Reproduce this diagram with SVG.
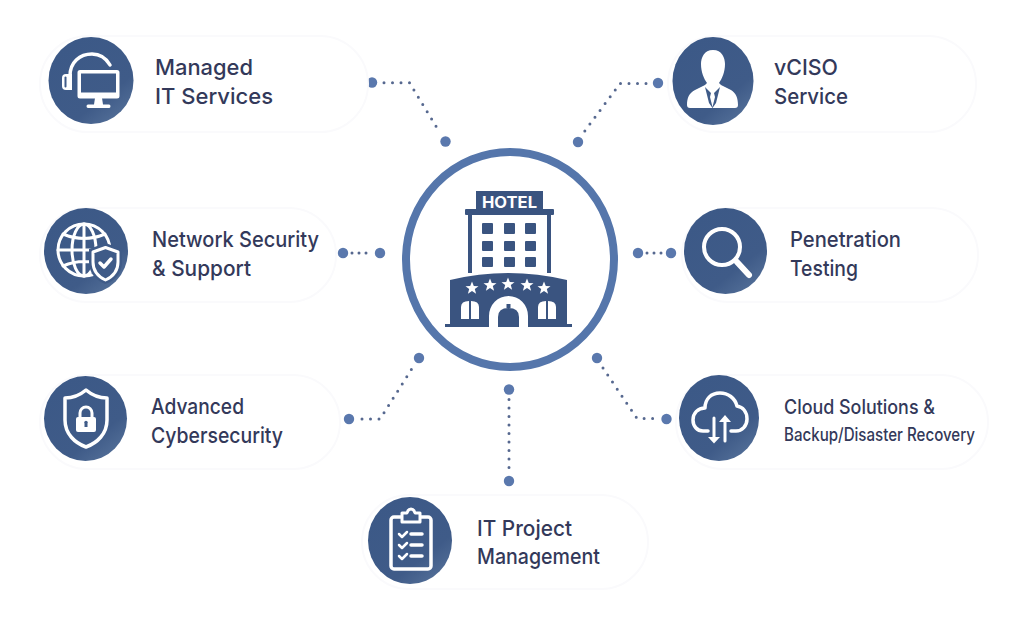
<svg xmlns="http://www.w3.org/2000/svg" width="1024" height="617" viewBox="0 0 1024 617">
<style>
text{font-family:"Inter","Liberation Sans",sans-serif;font-weight:500;font-size:22px;fill:#33395a}
.pill{fill:#fff;stroke:#fafafc;stroke-width:2}
.disc{fill:url(#g)}
.ws{fill:none;stroke:#fff;stroke-width:3.500;stroke-linecap:round;stroke-linejoin:round}
.wf{fill:#fff}
.dot{fill:#5a78ad}
.link{fill:none;stroke:#56688f;stroke-width:3;stroke-linecap:round;stroke-dasharray:0 8.500}
.short{stroke-dasharray:0 7}
.h{fill:#3a5480}
</style>
<defs>
<linearGradient id="g" x1="0.2" y1="0.1" x2="0.85" y2="0.95"><stop offset="0" stop-color="#3c5987"/><stop offset="0.7" stop-color="#3f5b88"/><stop offset="1" stop-color="#536f98"/></linearGradient>
</defs>
<rect width="1024" height="617" fill="#fff"/>

<g id="connectors">
<path class="link" d="M384 82.700H409.500L439.500 132"/><circle class="dot" cx="372" cy="82.500" r="5.200"/><circle class="dot" cx="445.500" cy="141.500" r="5.200"/>
<path class="link" d="M646 83.500H620L584 132"/><circle class="dot" cx="658" cy="83" r="5.200"/><circle class="dot" cx="578" cy="142" r="5.200"/>
<path class="link short" d="M352 253H373"/><circle class="dot" cx="343" cy="253" r="5.200"/><circle class="dot" cx="380" cy="253" r="5.200"/>
<path class="link short" d="M647 253H668"/><circle class="dot" cx="638" cy="253" r="5.200"/><circle class="dot" cx="671" cy="253" r="5.200"/>
<path class="link" d="M362 419H380L413 367"/><circle class="dot" cx="349" cy="419" r="5.200"/><circle class="dot" cx="419" cy="358" r="5.200"/>
<path class="link" d="M603 368L637 418.500H654"/><circle class="dot" cx="597" cy="358" r="5.200"/><circle class="dot" cx="666.500" cy="419" r="5.200"/>
<path class="link" d="M509 399.500V472"/><circle class="dot" cx="509" cy="389.500" r="5.200"/><circle class="dot" cx="509" cy="481" r="5.200"/>
</g>

<g id="hub">
<ellipse cx="510" cy="259.500" rx="104" ry="107.500" fill="#fff" stroke="#5576ab" stroke-width="8"/>
<rect class="h" x="476" y="191" width="67" height="18"/>
<text x="482" y="207.500" style="font-size:15.500px;font-weight:700;fill:#fff" textLength="55" lengthAdjust="spacingAndGlyphs">HOTEL</text>
<rect class="h" x="465" y="209" width="89" height="6" rx="1"/>
<rect class="h" x="468" y="215" width="4" height="58"/><rect class="h" x="547" y="215" width="4" height="58"/>
<g class="h">
<rect x="482" y="223" width="11" height="11" rx="1"/><rect x="504" y="223" width="11" height="11" rx="1"/><rect x="525" y="223" width="11" height="11" rx="1"/>
<rect x="482" y="241" width="11" height="10" rx="1"/><rect x="504" y="241" width="11" height="10" rx="1"/><rect x="525" y="241" width="11" height="10" rx="1"/>
<rect x="482" y="257" width="11" height="10" rx="1"/><rect x="504" y="257" width="11" height="10" rx="1"/><rect x="525" y="257" width="11" height="10" rx="1"/>
</g>
<path class="h" d="M450 280Q508 266 567 280V324H572V327H528V316A19.500 20 0 0 0 489 316V327H445V324H450Z"/>
<path class="h" d="M498 327V317Q498 308 508.500 308Q519 308 519 317V327ZM506.500 304H510.500V308H506.500Z"/>
<path class="wf" d="M461 319V307Q461 301 469 301V319ZM471 319V301Q479 301 479 307V319Z"/>
<path class="wf" d="M538 319V307Q538 301 546 301V319ZM548 319V301Q556 301 556 307V319Z"/>
<g class="wf">
<path id="s" d="M472 281.500L473.800 286 478.500 286.200 474.800 289.100 476.100 293.700 472 291 467.900 293.700 469.200 289.100 465.500 286.200 470.200 286Z"/>
<use href="#s" x="18" y="-3"/><use href="#s" x="36" y="-4"/><use href="#s" x="55" y="-3"/><use href="#s" x="72"/>
</g>
</g>

<g id="managed-it">
<rect class="pill" x="40" y="36" width="328" height="96" rx="48"/>
<ellipse class="disc" cx="91" cy="80.500" rx="42.500" ry="43.500"/>
<path class="wf" fill-rule="evenodd" d="M80 70H117Q119.500 70 119.500 72.500V96Q119.500 98.500 117 98.500H80Q77.500 98.500 77.500 96V72.500Q77.500 70 80 70ZM81 73.500V92.500H116V73.500Z"/>
<path class="wf" d="M95 98H102L103 104.500H109Q110.500 104.500 110.500 106.300T109 108H88Q86.500 108 86.500 106.300T88 104.500H94Z"/>
<path class="ws" d="M70 76C70 62 80 54 92 54C100 54 106 58 110 65"/>
<path class="wf" d="M66 74H72V90H66Q62 90 62 86V78Q62 74 66 74Z"/>
<path d="M65.500 77.500V86.500" stroke="#3f5b88" stroke-width="2" stroke-linecap="round"/>
<text x="155" y="75" textLength="98" lengthAdjust="spacingAndGlyphs">Managed</text>
<text x="155" y="104" textLength="118" lengthAdjust="spacingAndGlyphs">IT Services</text>
</g>

<g id="network-security">
<rect class="pill" x="40" y="208" width="296" height="94" rx="47"/>
<ellipse class="disc" cx="86" cy="251" rx="42" ry="43"/>
<g class="ws" style="stroke-width:3">
<circle cx="84" cy="250" r="26"/><ellipse cx="84" cy="250" rx="12" ry="26"/>
<path d="M84 224V276M58 250H110M63 234Q84 243 105 234M63 266Q84 257 105 266"/>
</g>
<path d="M105.500 243L122 249V262C122 274 114 281 105.500 284C97 281 89 274 89 262V249Z" fill="#3f5b88"/>
<path class="ws" style="stroke-width:3" d="M105.500 247.500L118 252V262C118 271 112 277 105.500 280C99 277 93 271 93 262V252Z"/>
<path class="ws" d="M100 263L104 267L111 259"/>
<text x="152" y="247" textLength="167" lengthAdjust="spacingAndGlyphs">Network Security</text>
<text x="152" y="276" textLength="99" lengthAdjust="spacingAndGlyphs">&amp; Support</text>
</g>

<g id="advanced-cybersecurity">
<rect class="pill" x="40" y="375" width="300" height="94" rx="47"/>
<ellipse class="disc" cx="85.500" cy="418.500" rx="41.500" ry="42.500"/>
<path class="ws" d="M86 390C93 396 100 398 107 398V420C107 434 97 443 86 447C75 443 65 434 65 420V398C72 398 79 396 86 390Z"/>
<path class="ws" style="stroke-width:3" d="M80 418V413A5.800 5.800 0 0 1 92 413V418"/>
<rect class="wf" x="76" y="417" width="20" height="15" rx="2"/>
<path d="M84.500 423.500a1.800 1.800 0 1 1 3 0v3.500h-3z" fill="#3f5b88"/>
<text x="151" y="414" textLength="93" lengthAdjust="spacingAndGlyphs">Advanced</text>
<text x="151" y="443" textLength="132" lengthAdjust="spacingAndGlyphs">Cybersecurity</text>
</g>

<g id="vciso">
<rect class="pill" x="668" y="36" width="308" height="96" rx="48"/>
<ellipse class="disc" cx="713" cy="81" rx="40.500" ry="44"/>
<path class="wf" d="M713 50C722 50 725 58 725 64C725 72 722 79 719 83L721 85L731 90C736 93 738 98 738 105Q738 108 735 108H690Q687 108 687 105C687 98 689 93 695 90L705 85L707 83C704 79 701 72 701 64C701 58 704 50 713 50Z"/>
<path d="M705 87L711 93L710 97L712.500 107L715 97L714 93L720 87L716 103L712.500 108L709 103Z" fill="#3f5b88"/>
<text x="774" y="75" textLength="64" lengthAdjust="spacingAndGlyphs">vCISO</text>
<text x="774" y="104" textLength="74" lengthAdjust="spacingAndGlyphs">Service</text>
</g>

<g id="penetration-testing">
<rect class="pill" x="682" y="208" width="296" height="94" rx="47"/>
<ellipse class="disc" cx="725.500" cy="251" rx="41.500" ry="43"/>
<circle class="ws" style="stroke-width:4" cx="722" cy="247" r="18"/>
<path class="ws" style="stroke-width:6" d="M737 262L749 275"/>
<text x="790" y="247" textLength="111" lengthAdjust="spacingAndGlyphs">Penetration</text>
<text x="790" y="276" textLength="68" lengthAdjust="spacingAndGlyphs">Testing</text>
</g>

<g id="cloud-backup">
<rect class="pill" x="676" y="375" width="312" height="94" rx="47"/>
<ellipse class="disc" cx="719" cy="418" rx="40" ry="43"/>
<path class="ws" d="M708 431H703C697 431 693 426 693 420C693 413 698 408 705 408C705 399 711 393 720 393C728 393 735 398 737 406C743 407 747 412 747 419C747 426 742 431 736 431H731"/>
<path class="ws" style="stroke-width:3" d="M714 418V438"/><path class="wf" d="M708 437H720L714 443.500Z"/>
<path class="ws" style="stroke-width:3" d="M725 421V441"/><path class="wf" d="M719 422H731L725 415Z"/>
<text x="784" y="414" style="font-size:20px" textLength="151" lengthAdjust="spacingAndGlyphs">Cloud Solutions &amp;</text>
<text x="784" y="441" style="font-size:18px" textLength="191" lengthAdjust="spacingAndGlyphs">Backup/Disaster Recovery</text>
</g>

<g id="it-project">
<rect class="pill" x="362" y="495" width="286" height="94" rx="47"/>
<ellipse class="disc" cx="410" cy="540.500" rx="42" ry="43.500"/>
<rect class="ws" x="391" y="517" width="40" height="52" rx="3"/>
<path d="M402 513H407Q408 509 411 509T415 513H420V522H402Z" fill="#3f5b88" stroke="#fff" stroke-width="3" stroke-linejoin="round"/>
<path class="ws" style="stroke-width:2.500" d="M399 534L402 537L407 532M399 545L402 548L407 543M399 556L402 559L407 554"/>
<path class="ws" d="M411 534H422M411 545H422M411 556H422"/>
<text x="477" y="536" textLength="95" lengthAdjust="spacingAndGlyphs">IT Project</text>
<text x="477" y="564" textLength="123" lengthAdjust="spacingAndGlyphs">Management</text>
</g>
</svg>
